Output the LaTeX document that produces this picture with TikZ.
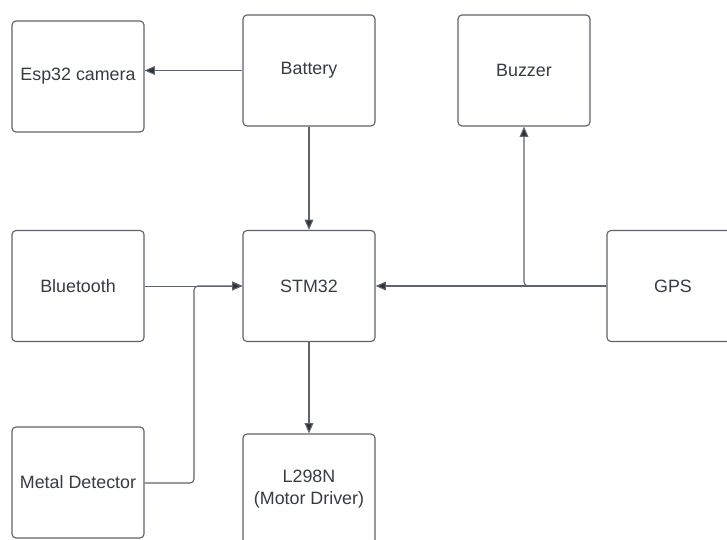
\documentclass[tikz,border=0pt]{standalone}
\usepackage{fontspec}
\setmainfont{Liberation Sans}
\usepackage{tikz}
\usetikzlibrary{arrows.meta, positioning, calc}
\usepackage{xcolor}
\definecolor{boxline}{RGB}{95,99,106}
\definecolor{txt}{RGB}{55,60,66}
\definecolor{tip}{RGB}{45,50,58}

\begin{document}
\begin{tikzpicture}[x=0.025cm, y=-0.025cm,
  block/.style={draw=boxline, line width=0.8pt, rounded corners=1mm, fill=white,
    minimum width=3.3cm, minimum height=2.775cm, text=txt, align=center,
    font=\fontsize{12.7}{15.5}\selectfont, inner sep=0pt},
  link/.style={draw=boxline, line width=0.8pt, -{Triangle[length=2.6mm, width=2.2mm, fill=tip]}}]
  \useasboundingbox (0,0) rectangle (727,539);
  \clip (0,0) rectangle (727,539);
  % blocks
  \node[block] (esp) at (78,76.5) {Esp32 camera};
  \node[block] (bat) at (309,70.5) {Battery};
  \node[block] (buz) at (524,70.5) {Buzzer};
  \node[block] (bt) at (78,286) {Bluetooth};
  \node[block] (stm) at (309,286) {STM32};
  \node[block] (gps) at (673,286) {GPS};
  \node[block] (metal) at (78,482.5) {Metal Detector};
  \node[block] (drv) at (309,489.5) {L298N\\(Motor Driver)};
  % power
  \draw[link] (bat.west) -- (bat.west -| esp.east);
  \draw[link] (bat) -- (stm);
  % inputs
  \draw[link, line width=0.5pt] (bt) -- (stm);
  \coordinate (mbend) at (194,483);
  \draw[link, rounded corners=1mm] (metal.east |- mbend) -- (mbend) -- (mbend |- stm.west) -- (stm.west);
  \draw[link] (gps) -- (stm);
  \draw[link, rounded corners=1mm] (gps.west) -- (buz.south |- gps.west) -- (buz.south);
  % output
  \draw[link] (stm) -- (drv);
\end{tikzpicture}
\end{document}
